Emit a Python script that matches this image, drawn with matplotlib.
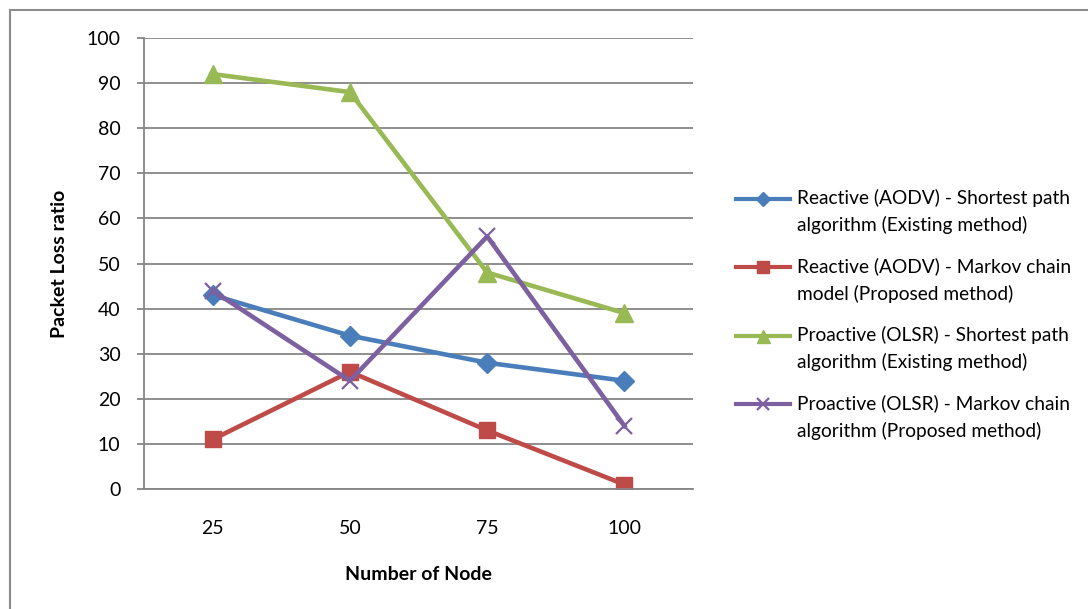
import numpy as np
import matplotlib.pyplot as plt
from matplotlib.patches import Rectangle
from matplotlib.legend_handler import HandlerLine2D
from matplotlib.transforms import Affine2D

plt.rcParams['font.family'] = ['Lato', 'DejaVu Sans']

nodes = ['25', '50', '75', '100']
aodv_shortest = [43, 34, 28, 24]
aodv_markov = [11, 26, 13, 1]
olsr_shortest = [92, 88, 48, 39]
olsr_markov = [44, 24, 56, 14]

labels = [
    'Reactive (AODV) - Shortest path\nalgorithm (Existing method)',
    'Reactive (AODV) - Markov chain\nmodel (Proposed method)',
    'Proactive (OLSR) - Shortest path\nalgorithm (Existing method)',
    'Proactive (OLSR) - Markov chain\nalgorithm (Proposed method)',
]


class TopLineHandler(HandlerLine2D):
    """Put the legend key level with the first line of a two-line label."""
    def create_artists(self, legend, orig_handle, xdescent, ydescent,
                       width, height, fontsize, trans):
        shifted = trans + Affine2D().translate(0, 13)
        return super().create_artists(legend, orig_handle, xdescent, ydescent,
                                      width, height, fontsize, shifted)


fig = plt.figure(figsize=(10.88, 6.09), dpi=100)
ax = fig.add_axes([0.1324, 0.197, 0.5046, 0.7406])

# outer chart frame (only top/left fall inside the image)
fig.patches.append(Rectangle((10 / 1088, -0.1), 1.2, (609 - 10) / 609 + 0.1,
                             transform=fig.transFigure, fill=False,
                             edgecolor='#8c8c8c', linewidth=1.5))

x = np.arange(len(nodes))
ax.plot(x, aodv_shortest, color='#4A7EBB', lw=3.3, marker='D', ms=10, label=labels[0])
ax.plot(x, aodv_markov, color='#BE4B48', lw=3.3, marker='s', ms=12, label=labels[1])
ax.plot(x, olsr_shortest, color='#98B954', lw=3.3, marker='^', ms=13, label=labels[2])
ax.plot(x, olsr_markov, color='#7D60A0', lw=3.3, marker='x', ms=12, mew=1.6, label=labels[3])

ax.set_xlim(-0.5, 3.5)
ax.set_ylim(0, 100)
ax.set_yticks(range(0, 101, 10))
ax.set_xticks(x)
ax.set_xticklabels(nodes)
ax.yaxis.grid(True, color='#868686', lw=1.3)
ax.set_axisbelow(True)
for side in ['top', 'right']:
    ax.spines[side].set_visible(False)
for side in ['left', 'bottom']:
    ax.spines[side].set_color('#868686')
    ax.spines[side].set_linewidth(1.3)
ax.tick_params(axis='y', length=5, color='#868686', width=1.3, labelsize=14, pad=12)
ax.tick_params(axis='x', length=0, labelsize=14, pad=22)

ax.set_xlabel('Number of Node', fontsize=14, fontweight='bold', labelpad=21)
ax.set_ylabel('Packet Loss ratio', fontsize=14, fontweight='bold', labelpad=13)

leg = ax.legend(loc='center left', bbox_to_anchor=(1.047, 0.388), frameon=False, fontsize=13.8,
                handlelength=2.8, labelspacing=1.2, handletextpad=0.4, markerscale=0.72,
                handler_map={plt.Line2D: TopLineHandler()})
for t in leg.get_texts():
    t.set_linespacing(1.63)
for h in leg.get_lines():
    h.set_linewidth(3)

fig.savefig('out.png', dpi=100)
